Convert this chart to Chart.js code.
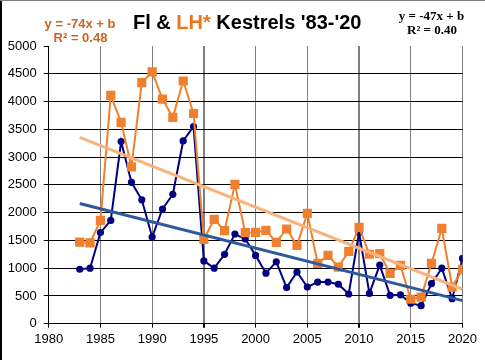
<!DOCTYPE html>
<html>
<head>
<meta charset="utf-8">
<script src="https://cdn.jsdelivr.net/npm/chart.js@4/dist/chart.umd.min.js"></script>
<style>
  html, body { margin: 0; padding: 0; background: #ffffff; }
  #wrap { position: relative; width: 485px; height: 360px; }
  canvas { position: absolute; left: 0; top: 0; }
</style>
</head>
<body>
<div id="wrap"><canvas id="c" width="485" height="360"></canvas></div>
<script>
// ---- data ----
const years = [1983,1984,1985,1986,1987,1988,1989,1990,1991,1992,1993,1994,1995,1996,1997,1998,1999,2000,2001,2002,2003,2004,2005,2006,2007,2008,2009,2010,2011,2012,2013,2014,2015,2016,2017,2018,2019,2020];
const flKestrels = [980,1000,1640,1860,3280,2545,2230,1560,2065,2330,3290,3550,1130,1000,1250,1615,1525,1230,910,1115,650,930,660,750,750,710,535,1640,545,1055,510,520,370,325,720,1000,450,1175];
const lhKestrels = [1470,1455,1860,4110,3625,2825,4340,4535,4045,3715,4370,3785,1520,1880,1675,2510,1640,1645,1680,1465,1705,1410,1985,1085,1230,1020,1300,1735,1250,1260,905,1050,440,480,1085,1715,660,980];
const trendYears = [1983, 2020];
const lhTrend = [3355, 620];
const flTrend = [2165, 415];
const xTicks = [1980,1985,1990,1995,2000,2005,2010,2015,2020];
const yTicks = [0,500,1000,1500,2000,2500,3000,3500,4000,4500,5000];
const titleParts = ["Fl & ", "LH*", " Kestrels '83-'20"];
const lhEquation = ["y = -74x + b", "R\u00b2 = 0.48"];
const flEquation = ["y = -47x + b", "R\u00b2 = 0.40"];

const pts = (xs, ys) => xs.map((x, i) => ({ x: x, y: ys[i] }));

const decor = {
  id: 'decor',
  beforeDraw(chart) {
    const ctx = chart.ctx;
    ctx.save();
    ctx.fillStyle = '#ffffff';
    ctx.fillRect(0, 0, chart.width, chart.height);
    ctx.restore();
  },
  afterDraw(chart) {
    const ctx = chart.ctx;
    ctx.save();
    // outer frame (left & top)
    ctx.fillStyle = '#000000';
    ctx.fillRect(0, 0, 2, chart.height);
    ctx.fillStyle = '#808080';
    ctx.fillRect(0, 0, chart.width, 1);
    // title
    ctx.textBaseline = 'alphabetic';
    ctx.textAlign = 'left';
    ctx.font = 'bold 20px "Liberation Sans", Arial, sans-serif';
    let x = 133;
    const colors = ['#000000', '#E8781E', '#000000'];
    titleParts.forEach((t, i) => {
      ctx.fillStyle = colors[i];
      ctx.fillText(t, x, 29);
      x += ctx.measureText(t).width;
    });
    // LH equation (left)
    ctx.font = 'bold 13px "Liberation Sans", Arial, sans-serif';
    ctx.fillStyle = '#CC6420';
    ctx.textAlign = 'center';
    ctx.fillText(lhEquation[0], 80, 27.5);
    ctx.fillText(lhEquation[1], 80.5, 41.5);
    // FL equation (right)
    ctx.font = 'bold 13px "Liberation Serif", "Times New Roman", serif';
    ctx.fillStyle = '#000000';
    ctx.fillText(flEquation[0], 431.5, 20);
    ctx.fillText(flEquation[1], 432, 34);
    ctx.restore();
  }
};

new Chart(document.getElementById('c'), {
  type: 'scatter',
  data: {
    datasets: [
      { label: 'LH trend', data: pts(trendYears, lhTrend), showLine: true, borderColor: '#F9B47E', borderWidth: 3, pointRadius: 0, fill: false },
      { label: 'Fl trend', data: pts(trendYears, flTrend), showLine: true, borderColor: '#2E5A9C', borderWidth: 3, pointRadius: 0, fill: false },
      { label: 'LH', data: pts(years, lhKestrels), showLine: true, borderColor: '#F0802E', backgroundColor: '#F0802E', borderWidth: 2, pointStyle: 'rect', pointRadius: 6.5, pointBorderWidth: 0, pointBackgroundColor: '#F0802E', tension: 0 },
      { label: 'Fl', data: pts(years, flKestrels), showLine: true, borderColor: '#000080', backgroundColor: '#000080', borderWidth: 2, pointStyle: 'circle', pointRadius: 3.6, pointBorderWidth: 0, pointBackgroundColor: '#000080', tension: 0 }
    ]
  },
  options: {
    responsive: false,
    animation: false,
    events: [],
    layout: { padding: { left: 0, top: 46, right: 22.5, bottom: 0 } },
    plugins: { legend: { display: false }, tooltip: { enabled: false }, title: { display: false } },
    scales: {
      x: {
        type: 'linear',
        min: 1980, max: 2020,
        afterBuildTicks: (s) => { s.ticks = xTicks.map(v => ({ value: v })); },
        afterFit: (s) => { s.height = 36.3; },
        ticks: { color: '#000000', font: { family: '"Liberation Sans", Arial, sans-serif', size: 13 }, padding: 4, maxRotation: 0, autoSkip: false, callback: (v) => String(v) },
        grid: {
          color: (c) => (c.tick && (c.tick.value === 1980)) ? 'rgba(0,0,0,0)' : '#808080',
          lineWidth: (c) => (c.tick && (c.tick.value === 1995 || c.tick.value === 2010)) ? 2 : 1,
          tickColor: '#000000', tickLength: 4, drawTicks: true
        },
        border: { color: '#000000', width: 1 }
      },
      y: {
        type: 'linear',
        min: 0, max: 5000,
        afterBuildTicks: (s) => { s.ticks = yTicks.map(v => ({ value: v })); },
        afterFit: (s) => { s.width = 48.7; },
        ticks: { color: '#000000', font: { family: '"Liberation Sans", Arial, sans-serif', size: 13 }, padding: 7, autoSkip: false, callback: (v) => String(v) },
        grid: {
          color: (c) => (c.tick && c.tick.value === 5000) ? 'rgba(0,0,0,0)' : '#000000',
          lineWidth: 1,
          tickColor: '#000000', tickLength: 5, drawTicks: true
        },
        border: { color: '#000000', width: 1 }
      }
    }
  },
  plugins: [decor]
});
</script>
</body>
</html>
